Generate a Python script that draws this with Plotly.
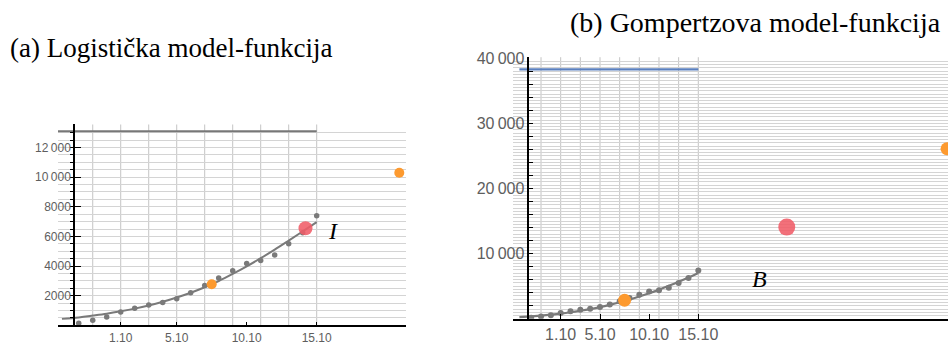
import plotly.graph_objects as go

# ---------------- data (days relative to 1 October) ----------------
days = list(range(-3, 15))
cases = [150, 340, 560, 900, 1150, 1370, 1540, 1800, 2210, 2690,
         3190, 3680, 4180, 4370, 4750, 5500, 6250, 7400]

curve_days = [-4.2] + list(range(-3, 15))
logistic_curve = [440, 540, 660, 790, 950, 1130, 1340, 1590, 1880, 2200,
                  2570, 2990, 3470, 3980, 4530, 5110, 5720, 6340, 6970]
gompertz_curve = [270, 380, 490, 630, 800, 1000, 1230, 1490, 1800, 2140,
                  2530, 2950, 3420, 3920, 4470, 5060, 5680, 6330, 7020]

logistic_L = 13100
gompertz_L = 38270
line_end_day = 14

log_orange_x = [6.5, 19.9]
log_orange_y = [2780, 10300]
log_red_x = [13.2]
log_red_y = [6550]

gom_orange_x = [6.5, 39.3]
gom_orange_y = [2850, 26100]
gom_red_x = [23.0]
gom_red_y = [14070]

tick_days = [0, 4, 9, 14]
tick_labels = ["1.10", "5.10", "10.10", "15.10"]
grid_days = list(range(-2, 15, 2))

ya_vals = [2000, 4000, 6000, 8000, 10000, 12000]
ya_text = ["2000", "4000", "6000", "8000", "10\u2009000", "12\u2009000"]
yb_vals = list(range(2000, 40001, 2000))
yb_text = [(f"{v // 1000}\u2009000" if v % 10000 == 0 else "") for v in yb_vals]

title_a = "(a) Logistička model-funkcija"
title_b = "(b) Gompertzova model-funkcija"

# ---------------- styling ----------------
W, H = 948, 345
GRAY = "#7a7a7a"
ORANGE = "#fd9a2f"
RED = "rgba(240,92,104,0.88)"
BLUE = "#5b80bf"
HGRID = "#d4d4d4"
VGRID = "#c4c4c4"
TICKCOL = "#5e5e5e"
SANS = "Liberation Sans, Arial, sans-serif"
SERIF = "Liberation Serif, DejaVu Serif, serif"

xa_range = [-4.48, 20.38]
xb_range = [-4.85, 39.4]

fig = go.Figure()

# panel a
fig.add_trace(go.Scatter(x=[xa_range[0], line_end_day], y=[logistic_L, logistic_L],
                         mode="lines", line=dict(color="#777777", width=2),
                         xaxis="x", yaxis="y", hoverinfo="skip"))
fig.add_trace(go.Scatter(x=curve_days, y=logistic_curve, mode="lines",
                         line=dict(color=GRAY, width=2, shape="spline"),
                         xaxis="x", yaxis="y"))
fig.add_trace(go.Scatter(x=days, y=cases, mode="markers",
                         marker=dict(color=GRAY, size=5.5),
                         xaxis="x", yaxis="y"))
fig.add_trace(go.Scatter(x=log_orange_x, y=log_orange_y, mode="markers",
                         marker=dict(color=ORANGE, size=10),
                         xaxis="x", yaxis="y"))
fig.add_trace(go.Scatter(x=log_red_x, y=log_red_y, mode="markers",
                         marker=dict(color=RED, size=14),
                         xaxis="x", yaxis="y"))

# panel b
fig.add_trace(go.Scatter(x=[-4.2, line_end_day], y=[gompertz_L, gompertz_L],
                         mode="lines", line=dict(color=BLUE, width=2.2),
                         xaxis="x2", yaxis="y2", hoverinfo="skip"))
fig.add_trace(go.Scatter(x=curve_days, y=gompertz_curve, mode="lines",
                         line=dict(color=GRAY, width=2.2, shape="spline"),
                         xaxis="x2", yaxis="y2"))
fig.add_trace(go.Scatter(x=days, y=cases, mode="markers",
                         marker=dict(color=GRAY, size=6),
                         xaxis="x2", yaxis="y2"))
fig.add_trace(go.Scatter(x=gom_orange_x, y=gom_orange_y, mode="markers",
                         marker=dict(color=ORANGE, size=13),
                         xaxis="x2", yaxis="y2"))
fig.add_trace(go.Scatter(x=gom_red_x, y=gom_red_y, mode="markers",
                         marker=dict(color=RED, size=17),
                         xaxis="x2", yaxis="y2"))

shapes = []
for d in grid_days:
    shapes.append(dict(type="line", xref="x", yref="y domain", x0=d, x1=d, y0=0, y1=1,
                       line=dict(color=VGRID, width=1), layer="below"))
    shapes.append(dict(type="line", xref="x2", yref="y2 domain", x0=d, x1=d, y0=0, y1=1,
                       line=dict(color=VGRID, width=1), layer="below"))

axis_common = dict(showline=True, linecolor="black", linewidth=1.5, zeroline=False,
                   ticks="inside", tickcolor="black", tickwidth=1)

fig.update_layout(
    width=W, height=H, autosize=False, margin=dict(l=0, r=0, t=0, b=0, pad=0),
    paper_bgcolor="white", plot_bgcolor="white", showlegend=False,
    shapes=shapes,
    xaxis=dict(domain=[58 / W, 406 / W], range=xa_range, anchor="y",
               tickvals=tick_days, ticktext=tick_labels, ticklen=4, showgrid=False,
               tickfont=dict(family=SANS, size=12, color=TICKCOL), **axis_common),
    yaxis=dict(domain=[(H - 327.9) / H, (H - 121) / H], range=[0, 13550],
               anchor="free", position=74 / W,
               tickvals=ya_vals, ticktext=ya_text, ticklen=6,
               showgrid=True, gridcolor=HGRID, gridwidth=1,
               minor=dict(tickmode="linear", tick0=0, dtick=500, ticklen=3,
                          showgrid=True, gridcolor=HGRID, tickcolor="black"),
               tickfont=dict(family=SANS, size=12, color=TICKCOL), **axis_common),
    xaxis2=dict(domain=[513 / W, 1.0], range=xb_range, anchor="y2",
                tickvals=tick_days, ticktext=tick_labels, ticklen=5, showgrid=False,
                tickfont=dict(family=SANS, size=16, color=TICKCOL), **axis_common),
    yaxis2=dict(domain=[(H - 321.1) / H, (H - 51.7) / H], range=[0, 40150],
                anchor="free", position=528.3 / W,
                tickvals=yb_vals, ticktext=yb_text, ticklen=4,
                showgrid=True, gridcolor=HGRID, gridwidth=1,
                minor=dict(tickmode="linear", tick0=0, dtick=500, ticklen=0,
                           showgrid=True, gridcolor=HGRID),
                tickfont=dict(family=SANS, size=16, color=TICKCOL), **axis_common),
    annotations=[
        dict(text=title_a, xref="paper", yref="paper", x=171 / W, y=(H - 42) / H,
             showarrow=False, xanchor="center", yanchor="middle",
             font=dict(family=SERIF, size=27, color="black")),
        dict(text=title_b, xref="paper", yref="paper", x=755 / W, y=(H - 16) / H,
             showarrow=False, xanchor="center", yanchor="middle",
             font=dict(family=SERIF, size=28, color="black")),
        dict(text="<i>I</i>", xref="x", yref="y", x=15.2, y=6400, showarrow=False,
             font=dict(family=SERIF, size=24, color="black")),
        dict(text="<i>B</i>", xref="x2", yref="y2", x=20.2, y=6100, showarrow=False,
             font=dict(family=SERIF, size=24, color="black")),
    ],
)

page_fix = (
    "var s=document.documentElement.style;s.margin='0';s.padding='0';"
    "s.height='345px';s.overflow='hidden';"
    "var b=document.body.style;b.margin='0';b.padding='0';b.height='345px';"
    "b.overflow='hidden';"
)

fig.write_html("out.html", config={"displayModeBar": False, "responsive": False},
               post_script=page_fix)
